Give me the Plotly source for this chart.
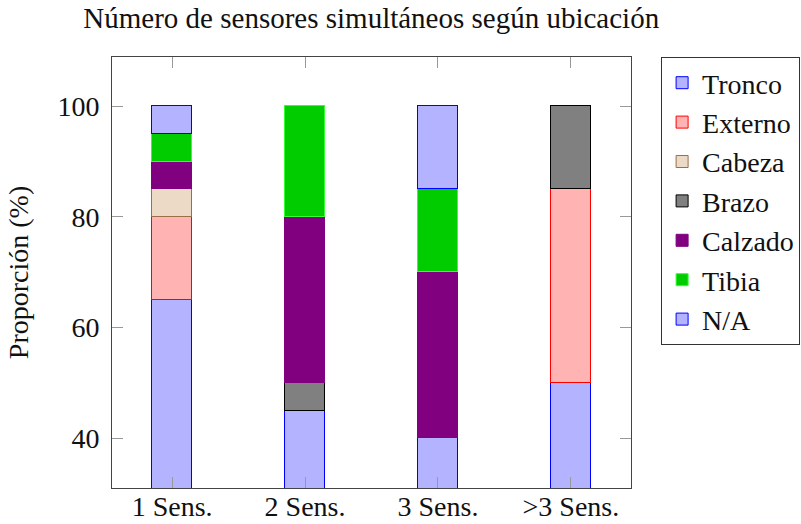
import plotly.graph_objects as go

categories = ["1 Sens.", "2 Sens.", "3 Sens.", ">3 Sens."]
series_names = ["Tronco", "Externo", "Cabeza", "Brazo", "Calzado", "Tibia", "N/A"]
tronco = [65, 45, 40, 50]
externo = [15, None, None, 35]
cabeza = [5, None, None, None]
brazo = [None, 5, None, 15]
calzado = [5, 30, 30, None]
tibia = [5, 20, 15, None]
na = [5, None, 15, None]
y_ticks = [40, 60, 80, 100]

values = [tronco, externo, cabeza, brazo, calzado, tibia, na]
fills = ["#b3b3ff", "#ffb3b3", "#ecd9c6", "#808080", "#800080", "#00cc00", "#b3b3ff"]
edges = ["#0000ff", "#ff0000", "#9a7048", "#000000", "#800080", "#33ff33", "#0000ff"]

FONT = "'Liberation Serif', 'DejaVu Serif', serif"

fig = go.Figure()
for name, vals, fc, ec in zip(series_names, values, fills, edges):
    fig.add_trace(go.Bar(
        x=categories, y=vals, name=name, legendgroup=name,
        marker=dict(color=fc, line=dict(color=ec, width=1)),
        width=0.30,
    ))

fig.update_layout(
    barmode="stack",
    width=801, height=524,
    margin=dict(l=112, r=170, t=57, b=36, autoexpand=False),
    plot_bgcolor="white", paper_bgcolor="white",
    font=dict(family=FONT, size=28, color="#111"),
    title=dict(text="Número de sensores simultáneos según ubicación",
               x=0.4635, xanchor="center", y=0.966, yanchor="middle",
               font=dict(family=FONT, size=29, color="#111")),
    legend=dict(x=1.058, xanchor="left", y=1.0, yanchor="top",
                bordercolor="#333", borderwidth=1,
                font=dict(family=FONT, size=28, color="#111"),
                traceorder="grouped", tracegroupgap=0,
                itemwidth=30),
    bargap=0,
)
fig.update_xaxes(
    type="category", range=[-0.452, 3.452], automargin=False,
    showline=True, linecolor="#444", linewidth=1, mirror="allticks",
    ticks="inside", ticklen=11, tickcolor="#999", showgrid=False,
    ticklabelstandoff=-7,
    tickfont=dict(family=FONT, size=28, color="#111"),
)
fig.update_yaxes(
    range=[31, 108.9], tickvals=y_ticks, automargin=False,
    showline=True, linecolor="#444", linewidth=1, mirror="allticks",
    ticks="inside", ticklen=11, tickcolor="#999", showgrid=False, zeroline=False,
    ticklabelstandoff=6,
    tickfont=dict(family=FONT, size=28, color="#111"),
    title=dict(text="Proporción (%)", font=dict(family=FONT, size=28, color="#111"), standoff=20),
)

fig.write_html("out.html")
